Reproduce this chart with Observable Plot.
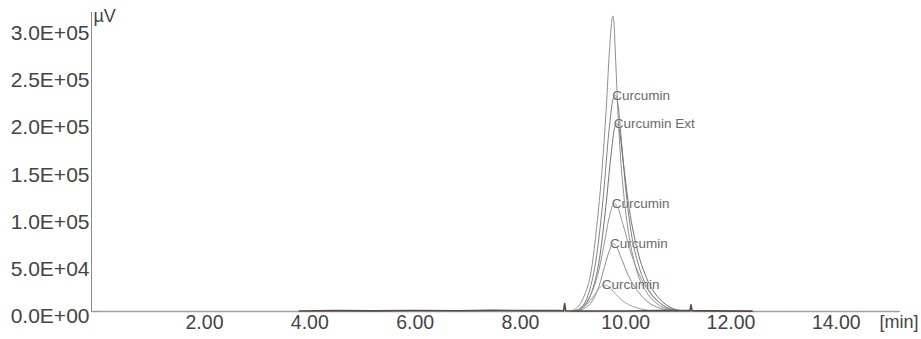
<!DOCTYPE html>
<html>
<head>
<meta charset="utf-8">
<script src="https://cdn.jsdelivr.net/npm/d3@7"></script>
<script src="https://cdn.jsdelivr.net/npm/@observablehq/plot@0.6"></script>
<style>
  html, body { margin: 0; padding: 0; background: #fff; }
</style>
</head>
<body>
<div id="chart"></div>
<script>
// ---- Data (time in min, signal in µV) ----
const t1 = [0, 8.9, 9.05, 9.2, 9.35, 9.45, 9.55, 9.63, 9.69, 9.73, 9.755, 9.78, 9.81, 9.85, 9.9, 9.97, 10.07, 10.2, 10.4, 10.6, 10.85, 11.2, 15.2];
const v1 = [0, 0, 3000, 15000, 45000, 90000, 150000, 215000, 275000, 305000, 313000, 303000, 265000, 215000, 165000, 120000, 78000, 45000, 20000, 8000, 2000, 0, 0];

const t2 = [0, 9.0, 9.15, 9.3, 9.45, 9.58, 9.68, 9.76, 9.8, 9.85, 9.92, 10.0, 10.1, 10.25, 10.45, 10.65, 10.9, 11.2, 15.2];
const v2 = [0, 0, 4000, 20000, 60000, 125000, 190000, 225000, 229000, 220000, 180000, 130000, 85000, 48000, 22000, 9000, 2000, 0, 0];

const t3 = [0, 9.0, 9.2, 9.35, 9.5, 9.62, 9.72, 9.79, 9.83, 9.88, 9.95, 10.05, 10.2, 10.4, 10.6, 10.8, 11.05, 11.3, 15.2];
const v3 = [0, 0, 5000, 20000, 55000, 110000, 165000, 195000, 199000, 192000, 160000, 115000, 70000, 35000, 16000, 6000, 1000, 0, 0];

const t4 = [0, 8.95, 9.15, 9.3, 9.45, 9.58, 9.68, 9.75, 9.79, 9.85, 9.95, 10.1, 10.3, 10.5, 10.7, 10.95, 11.2, 15.2];
const v4 = [0, 0, 4000, 14000, 35000, 68000, 98000, 112000, 114000, 110000, 92000, 62000, 34000, 17000, 7000, 1500, 0, 0];

const t5 = [0, 9.0, 9.2, 9.35, 9.5, 9.6, 9.7, 9.76, 9.82, 9.92, 10.05, 10.25, 10.45, 10.65, 10.9, 11.1, 15.2];
const v5 = [0, 0, 3000, 10000, 28000, 48000, 66000, 72000, 69000, 56000, 38000, 20000, 9000, 3500, 1000, 0, 0];

const t6 = [0, 8.9, 9.1, 9.25, 9.4, 9.52, 9.6, 9.68, 9.8, 9.95, 10.15, 10.4, 10.65, 10.9, 15.2];
const v6 = [0, 0, 2000, 7000, 17000, 26000, 28000, 26000, 19000, 11000, 5000, 1500, 0, 0, 0];

// baseline noise segment (darker) with two small injection spikes
const tb = [3.8, 4.5, 5.2, 6.0, 6.8, 7.5, 8.2, 8.7, 8.82, 8.84, 8.86, 9.0, 10.0, 10.6, 11.0, 11.22, 11.24, 11.26, 11.6, 12.4];
const vb = [600, 900, 700, 1100, 800, 1200, 900, 1000, 800, 8500, 800, 600, 500, 900, 1100, 900, 7000, 900, 700, 400];

const traceNames  = ["trace1", "trace2", "trace3", "trace4", "trace5", "trace6"];
const traceColors = ["#8f8f8f", "#808080", "#727272", "#969696", "#8c8c8c", "#a0a0a0"];
const peakLabels  = [null, "Curcumin", "Curcumin Ext", "Curcumin", "Curcumin", "Curcumin"];

const xTicks = [2, 4, 6, 8, 10, 12, 14];
const xTickLabels = ["2.00", "4.00", "6.00", "8.00", "10.00", "12.00", "14.00"];
const yTicks = [0, 50000, 100000, 150000, 200000, 250000, 300000];
const yTickLabels = ["0.0E+00", "5.0E+04", "1.0E+05", "1.5E+05", "2.0E+05", "2.5E+05", "3.0E+05"];

const xUnit = "[min]";
const yUnit = "µV";

// ---- Build tables ----
const series = [[t1, v1], [t2, v2], [t3, v3], [t4, v4], [t5, v5], [t6, v6]];
const rows = [];
const labels = [];
series.forEach(([ts, vs], i) => {
  ts.forEach((t, j) => rows.push({trace: traceNames[i], t, v: vs[j]}));
  if (peakLabels[i]) {
    const k = d3.maxIndex(vs);
    labels.push({t: ts[k], v: vs[k], text: peakLabels[i]});
  }
});
const base = tb.map((t, j) => ({t, v: vb[j]}));

const xDomain = [-0.146, 15.2];
const yDomain = [0, 316700];
const FONT = "'Liberation Sans', Arial, sans-serif";

const chart = Plot.plot({
  width: 921,
  height: 339,
  marginLeft: 91,
  marginRight: 22,
  marginTop: 12,
  marginBottom: 28,
  style: {fontFamily: FONT, background: "#fff", overflow: "visible"},
  x: {domain: xDomain},
  y: {domain: yDomain},
  marks: [
    // axes lines
    Plot.ruleY([0], {stroke: "#9a9a9a", strokeWidth: 1.5}),
    Plot.ruleX([xDomain[0]], {y1: 0, y2: yDomain[1], stroke: "#8a8a8a", strokeWidth: 1}),
    // chromatograms
    Plot.line(rows, {x: "t", y: "v", z: "trace", stroke: (d) => traceColors[traceNames.indexOf(d.trace)], strokeWidth: 1, curve: "monotone-x"}),
    Plot.line(base, {x: "t", y: "v", stroke: "#5a4a46", strokeWidth: 1.6}),
    // peak labels
    Plot.text(labels, {x: "t", y: "v", text: "text", textAnchor: "start", dx: -3, fontSize: 13.5, fill: "#6a6a6a", stroke: "#fff", strokeWidth: 0.5}),
    // axes
    Plot.axisY({ticks: yTicks, tickFormat: (d) => yTickLabels[yTicks.indexOf(d)], tickSize: 0, tickPadding: 2, dy: 5, fontSize: 21, fill: "#444", label: null}),
    Plot.axisX({ticks: xTicks, tickFormat: (d) => xTickLabels[xTicks.indexOf(d)], tickSize: 0, tickPadding: 4, fontSize: 19.5, fill: "#444", label: null}),
    Plot.text([xUnit], {frameAnchor: "bottom-right", textAnchor: "end", lineAnchor: "top", dx: 19, dy: 4, fontSize: 18, fill: "#444"}),
    Plot.text([yUnit], {frameAnchor: "top-left", textAnchor: "start", lineAnchor: "top", dx: 2, dy: -3, fontSize: 18, fill: "#444"})
  ]
});
document.getElementById("chart").appendChild(chart);
</script>
</body>
</html>
